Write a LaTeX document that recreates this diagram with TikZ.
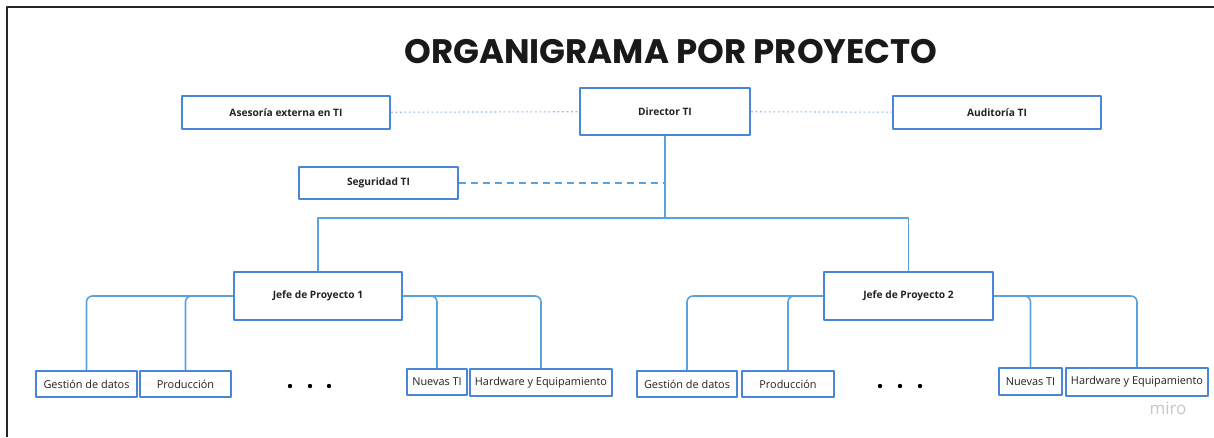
\documentclass[tikz,border=0pt]{standalone}
\usepackage{fontspec}
\setmainfont{Open Sans}
\newfontfamily\titlefont{Poppins}
\definecolor{boxblue}{HTML}{4A86D8}
\definecolor{linkblue}{HTML}{5AA2DC}
\definecolor{dotblue}{HTML}{9CC2E8}
\definecolor{txt}{HTML}{222222}
\begin{document}
\begin{tikzpicture}[x=1pt, y=-1pt, line join=round,
    box/.style={draw=boxblue, line width=1.7pt, fill=white, text=txt, inner sep=0pt,
      font=\fontsize{10.2}{12}\selectfont\bfseries},
    unitbox/.style={box, font=\fontsize{10.9}{12}\selectfont},
    conn/.style={draw=linkblue, line width=1.6pt},
    dotlink/.style={draw=dotblue, line width=1.1pt, dash pattern=on 2pt off 2.5pt},
    dashlink/.style={draw=linkblue, line width=1.5pt, dash pattern=on 7pt off 5pt}]
  % Page bounds and frame
  \useasboundingbox (0,0) rectangle (1214,437);
  \draw[line width=2.4pt, black!85] (1214,7) -- (7,7) -- (7,437);

  % Title
  \node[font=\titlefont\bfseries\fontsize{34}{36}\selectfont, text=black!90] (title) at (671,52) {ORGANIGRAMA POR PROYECTO};

  % Top level
  \node[box, minimum width=208, minimum height=33] (ase) at (286,112.5) {Asesoría externa en TI};
  \node[box, minimum width=170, minimum height=47] (dir) at (665,111.5) {Director TI};
  \node[box, minimum width=208, minimum height=33] (aud) at (997,112.5) {Auditoría TI};
  \node[box, minimum width=159, minimum height=32] (seg) at (378.5,183) {Seguridad TI};

  % Project heads
  \node[box, minimum width=168, minimum height=48] (jp1) at (318,296) {Jefe de Proyecto 1};
  \node[box, minimum width=169, minimum height=48] (jp2) at (908.5,296) {Jefe de Proyecto 2};

  % Units of project 1
  \node[unitbox, minimum width=101, minimum height=26] (gd1) at (86.5,384) {Gestión de datos};
  \node[unitbox, minimum width=91, minimum height=26] (pr1) at (185.5,384) {Producción};
  \node[unitbox, minimum width=60, minimum height=26] (nt1) at (437,382) {Nuevas TI};
  \node[unitbox, minimum width=142, minimum height=27] (hw1) at (541,382.5) {Hardware y Equipamiento};

  % Units of project 2
  \node[unitbox, minimum width=100, minimum height=26] (gd2) at (687,384) {Gestión de datos};
  \node[unitbox, minimum width=92, minimum height=26] (pr2) at (788,384) {Producción};
  \node[unitbox, minimum width=63, minimum height=27] (nt2) at (1030.5,381.5) {Nuevas TI};
  \node[unitbox, minimum width=142, minimum height=28] (hw2) at (1137,382) {Hardware y Equipamiento};

  % Advisory links
  \draw[dotlink] (ase) -- (dir);
  \draw[dotlink] (dir) -- (aud);

  % Main tree
  \draw[conn] (dir.south) -- (dir.south |- 0,218) coordinate (bus);
  \draw[conn] (jp1.north) |- (bus) -| (jp2.north);
  \draw[dashlink] (seg.east) -- (seg.east -| dir.south);

  % Branches to units
  \foreach \u in {gd1,pr1} \draw[conn, rounded corners=6pt] (jp1.west) -| (\u.north);
  \foreach \u in {nt1,hw1} \draw[conn, rounded corners=6pt] (jp1.east) -| (\u.north);
  \foreach \u in {gd2,pr2} \draw[conn, rounded corners=6pt] (jp2.west) -| (\u.north);
  \foreach \u in {nt2,hw2} \draw[conn, rounded corners=6pt] (jp2.east) -| (\u.north);

  % Ellipsis dots
  \foreach \x in {290,310,329,880,900,920} \fill[black] (\x,386) circle (2.2);

  % Watermark
  \node[font=\fontsize{17}{18}\selectfont, text=black!22] (wm) at (1168,408) {miro};
\end{tikzpicture}
\end{document}
